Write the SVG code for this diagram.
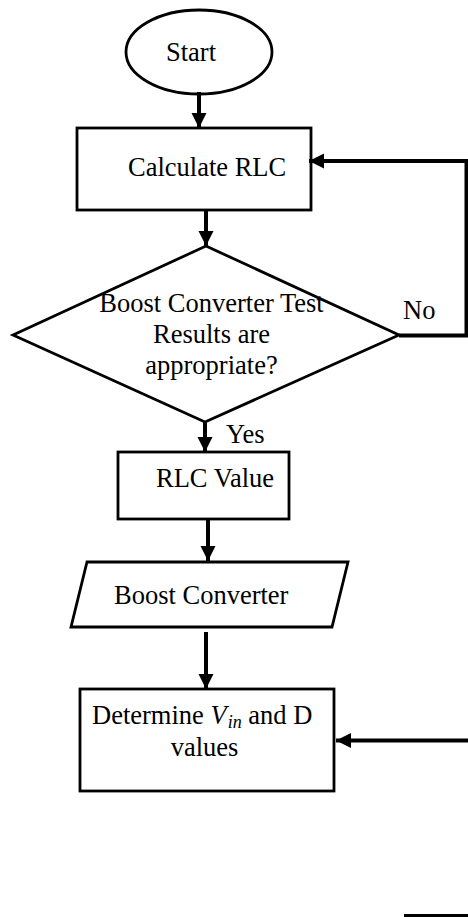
<svg xmlns="http://www.w3.org/2000/svg" width="468" height="917" viewBox="0 0 468 917">
  <style>
    .shape { fill: #ffffff; stroke: #000000; stroke-width: 2.8; }
    .label { font-family: "Liberation Serif", "Times New Roman", serif; font-size: 26.5px; fill: #000000; }
    .mid { text-anchor: middle; }
    .conn { fill: none; stroke: #000000; stroke-width: 4; }
    .math { font-style: italic; }
  </style>
  <defs>
    <marker id="arrow" markerUnits="userSpaceOnUse" markerWidth="16" markerHeight="16" refX="15" refY="7.5" orient="auto">
      <path d="M0,0 L15,7.5 L0,15 Z" fill="#000000"/>
    </marker>
  </defs>

  <rect width="468" height="917" fill="#ffffff"/>

  <!-- process nodes -->
  <g id="start">
    <ellipse class="shape" cx="199" cy="52" rx="73" ry="42"/>
    <text class="label" x="166" y="61">Start</text>
  </g>

  <g id="calculate-rlc">
    <rect class="shape" x="77" y="128" width="234" height="82"/>
    <text class="label" x="128" y="176">Calculate RLC</text>
  </g>

  <g id="test-decision">
    <polygon class="shape" points="13,335 206,246 399,335 205,422"/>
    <text class="label mid" x="211.5" y="312">Boost Converter Test</text>
    <text class="label mid" x="211.5" y="343">Results are</text>
    <text class="label mid" x="211.5" y="374">appropriate?</text>
  </g>

  <g id="rlc-value">
    <rect class="shape" x="118" y="452" width="171" height="67"/>
    <text class="label" x="156" y="487">RLC Value</text>
  </g>

  <g id="boost-converter">
    <polygon class="shape" points="87,562 348,562 332,627 71,627"/>
    <text class="label" x="114" y="604">Boost Converter</text>
  </g>

  <g id="determine-vin-d">
    <rect class="shape" x="80" y="689" width="254" height="102"/>
    <text class="label" x="92" y="724">Determine <tspan class="math">V</tspan><tspan class="math" dx="1" dy="4" font-size="18">in</tspan><tspan dy="-4"> and D</tspan></text>
    <text class="label mid" x="204.5" y="756">values</text>
  </g>

  <!-- connectors -->
  <g id="connectors">
    <line class="conn" x1="199" y1="92" x2="199" y2="128" marker-end="url(#arrow)"/>
    <line class="conn" x1="206" y1="210" x2="206" y2="246" marker-end="url(#arrow)"/>
    <line class="conn" x1="205" y1="422" x2="205" y2="452" marker-end="url(#arrow)"/>
    <line class="conn" x1="208" y1="519" x2="208" y2="561" marker-end="url(#arrow)"/>
    <line class="conn" x1="206" y1="632" x2="206" y2="689" marker-end="url(#arrow)"/>
    <polyline class="conn" points="399,335.5 466.5,335.5 466.5,161 309,161" marker-end="url(#arrow)"/>
    <line class="conn" x1="470" y1="740.5" x2="336" y2="740.5" marker-end="url(#arrow)"/>
    <line class="conn" x1="404" y1="916" x2="470" y2="916" stroke-width="3"/>
    <text class="label" x="403" y="318.5">No</text>
    <text class="label" x="226" y="443">Yes</text>
  </g>
</svg>
